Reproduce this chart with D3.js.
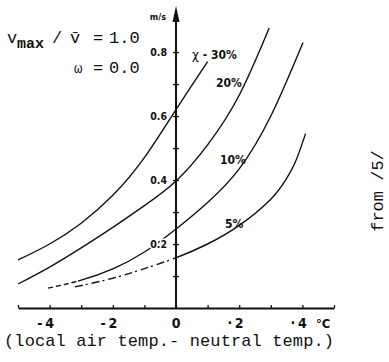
<!DOCTYPE html>
<html>
<head>
<meta charset="utf-8">
<script src="https://cdn.jsdelivr.net/npm/d3@7"></script>
<style>
  body { margin: 0; background: #fff; }
  svg { display: block; }
  .lbl { font-family: 'Liberation Sans Narrow', 'DejaVu Sans Condensed', 'Liberation Sans', sans-serif; font-weight: bold; fill: #111; }
  .mono { font-family: 'Liberation Mono', 'DejaVu Sans Mono', monospace; fill: #111; }
</style>
</head>
<body>
<div id="chart"></div>
<script>
// curves: temperature difference (°C) -> velocity (m/s)
var temp30 = [-5, -4, -3, -2, -1, 0, 1];
var vel30  = [0.15, 0.20, 0.265, 0.352, 0.47, 0.62, 0.77];

var temp20 = [-5, -4, -3, -2, -1, 0, 1, 2, 2.95];
var vel20  = [0.075, 0.128, 0.188, 0.252, 0.32, 0.397, 0.51, 0.665, 0.875];

var temp10 = [-4.05, -3, -2, -1, 0, 1, 2, 3, 4.02];
var vel10  = [0.062, 0.087, 0.122, 0.175, 0.247, 0.33, 0.435, 0.6, 0.83];

var temp5 = [-3.2, -2, -1, 0, 1, 2, 3, 3.5, 3.8, 4.1];
var vel5  = [0.066, 0.093, 0.123, 0.157, 0.2, 0.258, 0.34, 0.405, 0.462, 0.545];

var curveLabels = ["30%", "20%", "10%", "5%"];
var xLabelVals = [-4, -2, 0, 2, 4];
var yLabelVals = [0.2, 0.4, 0.6, 0.8];

var W = 389, H = 362;
var svg = d3.select("#chart").append("svg")
    .attr("width", W)
    .attr("height", H);

var x = d3.scaleLinear().domain([-5, 5]).range([18, 334]);
var y = d3.scaleLinear().domain([0, 0.9]).range([308, 20]);

var line = d3.line()
    .x(function(d) { return x(d[0]); })
    .y(function(d) { return y(d[1]); })
    .curve(d3.curveNatural);

function pts(t, v) { return t.map(function(d, i) { return [d, v[i]]; }); }

// clip regions for dashed (extrapolated) parts
function addClip(id, x0, x1) {
    svg.append("clipPath").attr("id", id)
        .append("rect")
        .attr("x", x(x0)).attr("y", 0)
        .attr("width", x(x1) - x(x0)).attr("height", H);
}
addClip("c10a", -6, -3.1);
addClip("c10b", -3.1, 6);
addClip("c5a", -6, 0);
addClip("c5b", 0, 6);

var g = svg.append("g").attr("fill", "none").attr("stroke", "#111").attr("stroke-width", 1.4);

g.append("path").attr("d", line(pts(temp30, vel30)));
g.append("path").attr("d", line(pts(temp20, vel20)));
g.append("path").attr("d", line(pts(temp10, vel10))).attr("clip-path", "url(#c10b)");
g.append("path").attr("d", line(pts(temp10, vel10))).attr("clip-path", "url(#c10a)")
    .attr("stroke-dasharray", "5,3");
g.append("path").attr("d", line(pts(temp5, vel5))).attr("clip-path", "url(#c5b)");
g.append("path").attr("d", line(pts(temp5, vel5))).attr("clip-path", "url(#c5a)")
    .attr("stroke-dasharray", "8,3,2,4");

// x axis
var xAxis = svg.append("g")
    .attr("transform", "translate(0," + y(0) + ")")
    .call(d3.axisBottom(x).ticks(10).tickSizeInner(-3).tickSizeOuter(0).tickFormat(""));
xAxis.select(".domain").attr("stroke", "#111").attr("stroke-width", 2);
xAxis.selectAll(".tick line").attr("stroke", "#111").attr("stroke-width", 1.3);

var xl = svg.append("g").selectAll("g").data(xLabelVals).enter().append("g")
    .attr("transform", function(d) { return "translate(" + x(d) + ",328)"; });
xl.append("text").attr("class", "lbl")
    .attr("text-anchor", "middle")
    .attr("font-size", 14)
    .text(function(d) { return Math.abs(d); });
xl.filter(function(d) { return d !== 0; }).append("text").attr("class", "lbl")
    .attr("text-anchor", "end")
    .attr("x", -7)
    .attr("font-size", 14)
    .text(function(d) { return d < 0 ? "-" : "·"; });

svg.append("text").attr("class", "lbl")
    .attr("x", 316).attr("y", 328)
    .attr("font-size", 13)
    .text("°C");

// y axis
var yAxis = svg.append("g")
    .attr("transform", "translate(" + x(0) + ",0)")
    .call(d3.axisLeft(y).tickValues(d3.range(1, 9).map(function(i) { return i / 10; }))
        .tickSizeInner(3).tickSizeOuter(0).tickFormat(""));
yAxis.select(".domain").remove();
yAxis.selectAll(".tick line").attr("x2", 3).attr("x1", -3).attr("stroke", "#111").attr("stroke-width", 1.3);
svg.append("line")
    .attr("x1", x(0)).attr("x2", x(0))
    .attr("y1", y(0) + 1).attr("y2", 12)
    .attr("stroke", "#111").attr("stroke-width", 2);
svg.append("path")
    .attr("d", d3.line()([[x(0), 6], [x(0) + 3.5, 22], [x(0) - 3.5, 22]]) + "Z")
    .attr("fill", "#111");

svg.append("g").selectAll("text").data(yLabelVals).enter().append("text")
    .attr("class", "lbl")
    .attr("x", 167)
    .attr("y", function(d) { return y(d); })
    .attr("dy", "0.36em")
    .attr("text-anchor", "end")
    .attr("font-size", 10.5)
    .attr("stroke", "#fff").attr("stroke-width", 3).attr("paint-order", "stroke")
    .text(function(d) { return d.toFixed(1); });

svg.append("text").attr("class", "lbl")
    .attr("x", 166).attr("y", 20)
    .attr("text-anchor", "end")
    .attr("font-size", 9)
    .text("m/s");

// curve labels
var lab30 = svg.append("text").attr("class", "lbl").attr("x", 192).attr("y", 59).attr("font-size", 12);
lab30.append("tspan").attr("font-weight", "normal").attr("font-family", "'DejaVu Sans', sans-serif").text("χ");
lab30.append("tspan").text(" - " + curveLabels[0]);
svg.append("text").attr("class", "lbl").attr("x", 216).attr("y", 87).attr("font-size", 12).text(curveLabels[1]);
svg.append("text").attr("class", "lbl").attr("x", 220).attr("y", 164).attr("font-size", 12).text(curveLabels[2]);
svg.append("text").attr("class", "lbl").attr("x", 225).attr("y", 228).attr("font-size", 12).text(curveLabels[3]);

// parameter annotation
svg.append("text").attr("class", "mono").attr("x", 7).attr("y", 43).attr("font-size", 17).text("v");
svg.append("text").attr("class", "mono").attr("x", 17).attr("y", 48).attr("font-size", 15).attr("font-weight", "bold").text("max");
svg.append("text").attr("class", "mono").attr("x", 52).attr("y", 43).attr("font-size", 17).text("/");
svg.append("text").attr("class", "mono").attr("x", 70).attr("y", 43).attr("font-size", 17).text("v̄");
svg.append("text").attr("class", "mono").attr("x", 93).attr("y", 43).attr("font-size", 17).text("=");
svg.append("text").attr("class", "mono").attr("x", 109).attr("y", 43).attr("font-size", 17).text("1.0");
svg.append("text").attr("class", "mono").attr("x", 74).attr("y", 73).attr("font-size", 14).text("ω");
svg.append("text").attr("class", "mono").attr("x", 93).attr("y", 73).attr("font-size", 17).text("=");
svg.append("text").attr("class", "mono").attr("x", 109).attr("y", 73).attr("font-size", 17).text("0.0");

// axis title
svg.append("text").attr("class", "mono")
    .attr("x", 4).attr("y", 346)
    .attr("font-size", 17)
    .attr("textLength", 330)
    .text("(local air temp.- neutral temp.)");

svg.append("text").attr("class", "mono")
    .attr("transform", "translate(383,191) rotate(-90)")
    .attr("text-anchor", "middle")
    .attr("font-size", 17)
    .text("from /5/");
</script>
</body>
</html>
